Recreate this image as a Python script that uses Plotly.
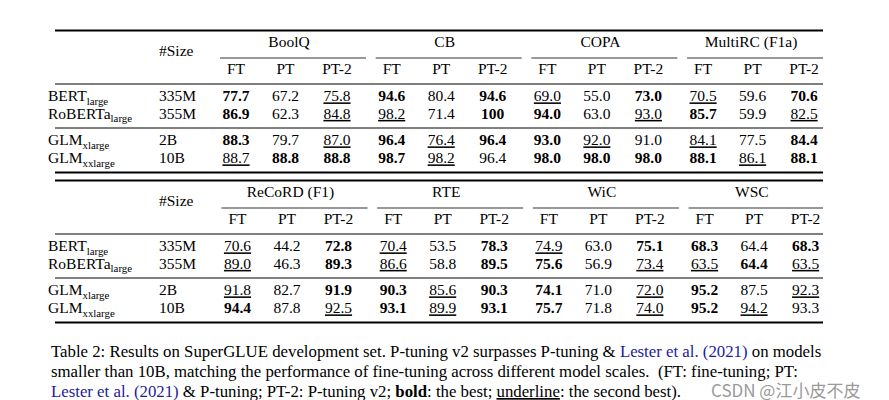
import plotly.graph_objects as go

# ---------------- data ----------------
models = ["BERT<sub>large</sub>", "RoBERTa<sub>large</sub>",
          "GLM<sub>xlarge</sub>", "GLM<sub>xxlarge</sub>"]
sizes = ["335M", "355M", "2B", "10B"]
methods = ["FT", "PT", "PT-2"]
tasks_top = ["BoolQ", "CB", "COPA", "MultiRC (F1a)"]
tasks_bottom = ["ReCoRD (F1)", "RTE", "WiC", "WSC"]

boolq = [[77.7, 67.2, 75.8], [86.9, 62.3, 84.8], [88.3, 79.7, 87.0], [88.7, 88.8, 88.8]]
cb = [[94.6, 80.4, 94.6], [98.2, 71.4, 100], [96.4, 76.4, 96.4], [98.7, 98.2, 96.4]]
copa = [[69.0, 55.0, 73.0], [94.0, 63.0, 93.0], [93.0, 92.0, 91.0], [98.0, 98.0, 98.0]]
multirc = [[70.5, 59.6, 70.6], [85.7, 59.9, 82.5], [84.1, 77.5, 84.4], [88.1, 86.1, 88.1]]
record = [[70.6, 44.2, 72.8], [89.0, 46.3, 89.3], [91.8, 82.7, 91.9], [94.4, 87.8, 92.5]]
rte = [[70.4, 53.5, 78.3], [86.6, 58.8, 89.5], [90.3, 85.6, 90.3], [93.1, 89.9, 93.1]]
wic = [[74.9, 63.0, 75.1], [75.6, 56.9, 73.4], [74.1, 71.0, 72.0], [75.7, 71.8, 74.0]]
wsc = [[68.3, 64.4, 68.3], [63.5, 64.4, 63.5], [95.2, 87.5, 92.3], [95.2, 94.2, 93.3]]

# emphasis per cell: b = best (bold), u = second best (underline), . = plain
boolq_marks = ["b.u", "b.u", "b.u", "ubb"]
cb_marks = ["b.b", "u.b", "bub", "bu."]
copa_marks = ["u.b", "b.u", "bu.", "bbb"]
multirc_marks = ["u.b", "b.u", "u.b", "bub"]
record_marks = ["u.b", "u.b", "u.b", "b.u"]
rte_marks = ["u.b", "u.b", "bub", "bub"]
wic_marks = ["u.b", "b.u", "b.u", "b.u"]
wsc_marks = ["b.b", "ubu", "b.u", "bu."]

top_values = [boolq, cb, copa, multirc]
top_marks = [boolq_marks, cb_marks, copa_marks, multirc_marks]
bottom_values = [record, rte, wic, wsc]
bottom_marks = [record_marks, rte_marks, wic_marks, wsc_marks]

caption_lines = [
    'Table 2: Results on SuperGLUE development set. P-tuning v2 surpasses P-tuning & '
    '<span style="color:#1c1c9c">Lester et al. (2021)</span> on models',
    'smaller than 10B, matching the performance of fine-tuning across different model scales.  (FT: fine-tuning; PT:',
    '<span style="color:#1c1c9c">Lester et al. (2021)</span> & P-tuning; PT-2: P-tuning v2; '
    '<b>bold</b>: the best; <u>underline</u>: the second best).',
]
watermark = "CSDN @江小皮不皮"

# ---------------- layout helpers ----------------
SERIF = "Liberation Serif, Times New Roman, serif"
FS = 15.5
W, H = 889, 400
LEFT, RIGHT = 47, 815
MODEL_X, SIZE_X = 40, 151


def col_x(g, m, shift=0.0):
    return 228 + 155.7 * g + [0, 49.5, 101][m] + shift


def fmt(v):
    return str(v) if isinstance(v, int) else f"{v:.1f}"


def styled(s, mark):
    if mark == "b":
        return f"<b>{s}</b>"
    if mark == "u":
        return f"<u>{s}</u>"
    return s


fig = go.Figure()
shapes = []


def hline(x0, x1, y, w, color="black"):
    shapes.append(dict(type="line", xref="x", yref="y", x0=x0, x1=x1, y0=y, y1=y,
                       line=dict(color=color, width=w)))


def add_table(top, tasks, values, marks, shift):
    y_group = top + 12.5
    y_size = top + 22
    y_cmid = top + 27.5
    y_sub = top + 40
    y_mid = top + 53.5
    rows = [top + 67, top + 84.5, top + 111, top + 129]
    y_mid2 = top + 97.5
    y_bot = top + 142

    hline(LEFT, RIGHT, top, 2)
    hline(LEFT, RIGHT, y_mid, 1)
    hline(LEFT, RIGHT, y_mid2, 1)
    hline(LEFT, RIGHT, y_bot, 2)

    hx, hy, ht = [], [], []
    for g, t in enumerate(tasks):
        x0 = col_x(g, 0, shift) - 16
        x1 = RIGHT if g == len(tasks) - 1 else col_x(g, 0, shift) + 130
        hline(x0, x1, y_cmid, 1.2, "#333")
        hx.append((x0 + x1) / 2 - 4)
        hy.append(y_group)
        ht.append(t)
        for m, name in enumerate(methods):
            hx.append(col_x(g, m, shift))
            hy.append(y_sub)
            ht.append(name)
    fig.add_trace(go.Scatter(x=hx, y=hy, text=ht, mode="text", textposition="middle center",
                             textfont=dict(family=SERIF, size=FS, color="black"),
                             hoverinfo="skip", showlegend=False))
    lx, ly, lt = [SIZE_X], [y_size], ["#Size"]
    for r in range(4):
        lx += [MODEL_X, SIZE_X]
        ly += [rows[r], rows[r]]
        lt += [models[r], sizes[r]]
    fig.add_trace(go.Scatter(x=lx, y=ly, text=lt, mode="text", textposition="middle right",
                             textfont=dict(family=SERIF, size=FS, color="black"),
                             hoverinfo="skip", showlegend=False))
    vx, vy, vt = [], [], []
    for g in range(len(tasks)):
        for r in range(4):
            for m in range(3):
                vx.append(col_x(g, m, shift))
                vy.append(rows[r])
                vt.append(styled(fmt(values[g][r][m]), marks[g][r][m]))
    fig.add_trace(go.Scatter(x=vx, y=vy, text=vt, mode="text", textposition="middle center",
                             textfont=dict(family=SERIF, size=FS, color="black"),
                             hoverinfo="skip", showlegend=False))


add_table(22.5, tasks_top, top_values, top_marks, 0)
add_table(172.5, tasks_bottom, bottom_values, bottom_marks, 1.5)

annotations = []
for i, line in enumerate(caption_lines):
    annotations.append(dict(x=41, y=343 + 20 * i, xref="x", yref="y", text=line,
                            showarrow=False, xanchor="left", yanchor="middle",
                            font=dict(family=SERIF, size=16.8, color="black")))
annotations.append(dict(x=702, y=381, xref="x", yref="y", text=watermark, showarrow=False,
                        xanchor="left", yanchor="middle", borderpad=0,
                        font=dict(family="Noto Sans CJK SC, sans-serif", size=17, color="#9a9a9a")))

fig.update_layout(
    width=W, height=H,
    margin=dict(l=0, r=0, t=0, b=0),
    paper_bgcolor="white", plot_bgcolor="white",
    xaxis=dict(range=[0, W], visible=False, fixedrange=True),
    yaxis=dict(range=[H, 0], visible=False, fixedrange=True),
    shapes=shapes, annotations=annotations,
)

fig.write_html("out.html")
